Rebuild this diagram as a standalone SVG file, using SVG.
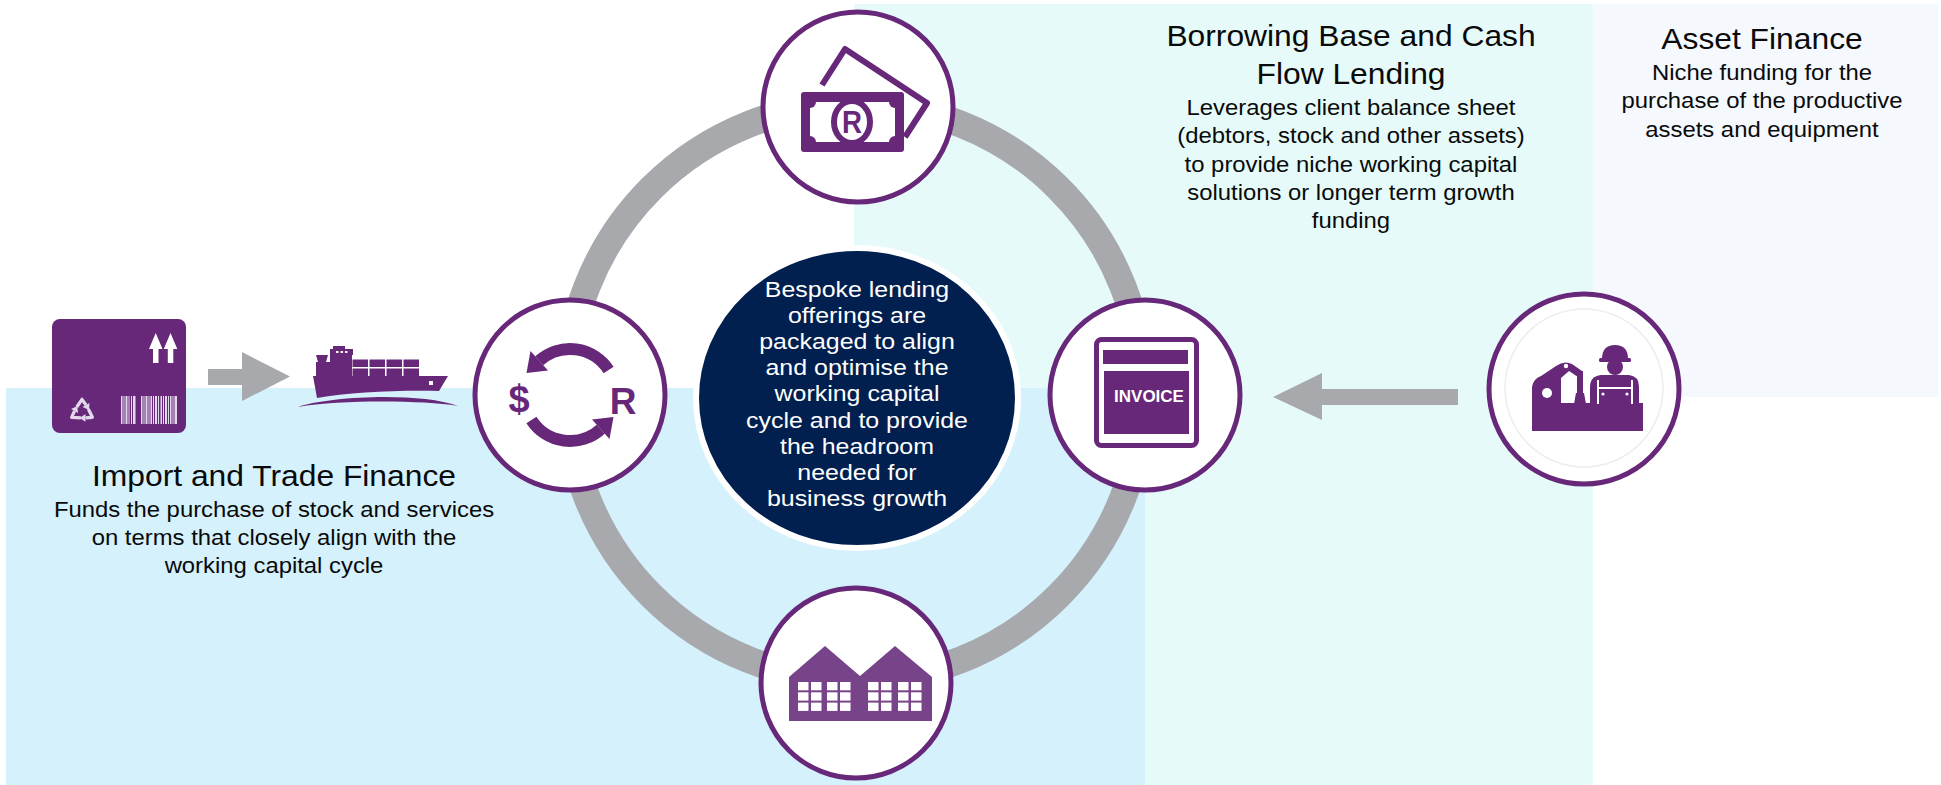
<svg xmlns="http://www.w3.org/2000/svg" width="1941" height="785" viewBox="0 0 1941 785">
  <style>
    .node { fill: #ffffff; stroke: #68287A; stroke-width: 5; }
    .ic { fill: #68287A; }
    .pale { fill: #E4D9EC; }
    .gray { fill: #A8A9AD; }
    .title { font-family: "Liberation Sans", Arial, sans-serif; font-size: 29.3px; fill: #0a0a0a; text-anchor: middle; }
    .body { font-family: "Liberation Sans", Arial, sans-serif; font-size: 22px; fill: #0a0a0a; text-anchor: middle; }
    .lead { font-family: "Liberation Sans", Arial, sans-serif; font-size: 23px; fill: #ffffff; text-anchor: middle; }
    .glyph { font-family: "Liberation Sans", Arial, sans-serif; font-weight: bold; fill: #68287A; text-anchor: middle; }
  </style>

  <defs>
    <!-- one folded arrow of the recycling mark, centred on the triangle centroid -->
    <g id="recycle-arm">
      <path d="M-5.2,-4.3 L0,-12 L4,-6.3" fill="none" stroke="#E4D9EC" stroke-width="3.2" stroke-linejoin="round"/>
      <path d="M7.4,-8.3 L7,-1.4 L0.6,-4.3 Z" fill="#E4D9EC"/>
    </g>
  </defs>

  <!-- page and coloured panels -->
  <rect x="0" y="0" width="1941" height="785" fill="#ffffff"/>
  <rect x="854" y="4" width="739" height="781" fill="#E6FBF9"/>
  <rect x="1593" y="4" width="345" height="393" fill="#F5F9FE"/>
  <rect x="6" y="388" width="1139" height="397" fill="#D4F1FC"/>

  <!-- cycle ring and flow arrows -->
  <g id="connectors">
    <circle cx="855" cy="392" r="288" fill="none" stroke="#A8A9AD" stroke-width="27"/>
    <path class="gray" d="M208,369 H242 V352 L290,376.5 L242,401 V385 H208 Z"/>
    <path class="gray" d="M1458,389 H1322 V373 L1273,397 L1322,420 V405 H1458 Z"/>
  </g>

  <!-- centre statement -->
  <g id="centre">
    <ellipse cx="857" cy="398" rx="161" ry="150" fill="#01204F" stroke="#ffffff" stroke-width="6"/>
    <g transform="translate(857,0) scale(1.085,1)">
      <text class="lead" x="0" y="297">Bespoke lending</text>
      <text class="lead" x="0" y="323">offerings are</text>
      <text class="lead" x="0" y="349">packaged to align</text>
      <text class="lead" x="0" y="375">and optimise the</text>
      <text class="lead" x="0" y="401">working capital</text>
      <text class="lead" x="0" y="428">cycle and to provide</text>
      <text class="lead" x="0" y="454">the headroom</text>
      <text class="lead" x="0" y="480">needed for</text>
      <text class="lead" x="0" y="506">business growth</text>
    </g>
  </g>

  <!-- banknote node -->
  <g id="node-cash">
    <circle class="node" cx="858" cy="107" r="95"/>
    <path d="M822,85 L845,49 L927,103 L905,137" fill="none" stroke="#68287A" stroke-width="6" stroke-linejoin="round"/>
    <rect class="ic" x="801" y="92" width="103" height="60" rx="3"/>
    <rect x="810" y="102" width="85" height="40" fill="#ffffff"/>
    <circle class="ic" cx="810" cy="102" r="6"/>
    <circle class="ic" cx="895" cy="102" r="6"/>
    <circle class="ic" cx="810" cy="142" r="6"/>
    <circle class="ic" cx="895" cy="142" r="6"/>
    <ellipse cx="852" cy="122" rx="18" ry="21" fill="#ffffff" stroke="#68287A" stroke-width="6"/>
    <text class="glyph" x="852" y="133" font-size="32" textLength="20" lengthAdjust="spacingAndGlyphs">R</text>
  </g>

  <!-- currency exchange node -->
  <g id="node-exchange">
    <circle class="node" cx="570" cy="395" r="95"/>
    <path d="M608.6,370 A46,46 0 0 0 539.2,360.8" fill="none" stroke="#68287A" stroke-width="12"/>
    <path class="ic" d="M530.5,351 L548,370.5 L526.5,373 Z"/>
    <path d="M531.4,420 A46,46 0 0 0 600.8,429.2" fill="none" stroke="#68287A" stroke-width="12"/>
    <path class="ic" d="M609.5,439 L592,419.5 L613.5,417 Z"/>
    <text class="glyph" x="519" y="412" font-size="38">$</text>
    <text class="glyph" x="623" y="414" font-size="37">R</text>
  </g>

  <!-- invoice node -->
  <g id="node-invoice">
    <circle class="node" cx="1145" cy="395" r="95"/>
    <rect x="1096.5" y="339.5" width="100" height="106" rx="5" fill="#ffffff" stroke="#68287A" stroke-width="5"/>
    <rect class="ic" x="1103" y="350" width="85" height="14"/>
    <rect class="ic" x="1104" y="371" width="85" height="63"/>
    <text x="1149" y="402" font-family="Liberation Sans, Arial, sans-serif" font-weight="bold" font-size="17" fill="#ffffff" text-anchor="middle">INVOICE</text>
  </g>

  <!-- warehouse node -->
  <g id="node-warehouse">
    <circle class="node" cx="856" cy="683" r="95"/>
    <path d="M789,677 L825,646 L860,676 L895,646 L932,677 V721 H789 Z" fill="#784489"/>
    <g fill="#ffffff">
      <rect x="798" y="682" width="10.5" height="8.3"/><rect x="811" y="682" width="10.5" height="8.3"/>
      <rect x="798" y="692.3" width="10.5" height="8.3"/><rect x="811" y="692.3" width="10.5" height="8.3"/>
      <rect x="798" y="702.6" width="10.5" height="8.3"/><rect x="811" y="702.6" width="10.5" height="8.3"/>
      <rect x="827" y="682" width="10.5" height="8.3"/><rect x="840" y="682" width="10.5" height="8.3"/>
      <rect x="827" y="692.3" width="10.5" height="8.3"/><rect x="840" y="692.3" width="10.5" height="8.3"/>
      <rect x="827" y="702.6" width="10.5" height="8.3"/><rect x="840" y="702.6" width="10.5" height="8.3"/>
      <rect x="868" y="682" width="10.5" height="8.3"/><rect x="881" y="682" width="10.5" height="8.3"/>
      <rect x="868" y="692.3" width="10.5" height="8.3"/><rect x="881" y="692.3" width="10.5" height="8.3"/>
      <rect x="868" y="702.6" width="10.5" height="8.3"/><rect x="881" y="702.6" width="10.5" height="8.3"/>
      <rect x="898" y="682" width="10.5" height="8.3"/><rect x="911" y="682" width="10.5" height="8.3"/>
      <rect x="898" y="692.3" width="10.5" height="8.3"/><rect x="911" y="692.3" width="10.5" height="8.3"/>
      <rect x="898" y="702.6" width="10.5" height="8.3"/><rect x="911" y="702.6" width="10.5" height="8.3"/>
    </g>
  </g>

  <!-- asset finance node: robot arm and worker -->
  <g id="node-asset">
    <circle class="node" cx="1584" cy="389" r="95"/>
    <circle cx="1584" cy="388" r="79" fill="none" stroke="#EDEDEF" stroke-width="1.5"/>
    <rect class="ic" x="1532" y="403" width="111" height="28"/>
    <path class="ic" d="M1532,404 V387 Q1533,379 1541,376 L1556,366 Q1564,360 1572,364 L1582,371 L1578,377 L1569,371 L1561,378 V404 Z"/>
    <circle cx="1547" cy="393" r="5" fill="#ffffff"/>
    <circle cx="1566" cy="366" r="2.2" fill="#ffffff"/>
    <rect class="ic" x="1577" y="371" width="6" height="22"/>
    <path class="ic" d="M1574,404 L1576,393 H1584 L1586,404 Z"/>
    <path class="ic" d="M1602,359 Q1602,345 1615,345 Q1628,345 1628,359 Z"/>
    <rect class="ic" x="1599" y="358" width="32" height="4" rx="1.5"/>
    <circle class="ic" cx="1615" cy="367" r="8"/>
    <path class="ic" d="M1590,404 V387 Q1590,376 1601,375 H1629 Q1639,376 1639,387 V404 Z"/>
    <path d="M1598,404 V380 M1632,404 V380 M1598,388 H1632" fill="none" stroke="#ffffff" stroke-width="2"/>
    <circle cx="1603" cy="394" r="1.6" fill="#ffffff"/>
    <circle cx="1627" cy="394" r="1.6" fill="#ffffff"/>
  </g>

  <!-- shipping carton -->
  <g id="node-carton">
    <rect class="ic" x="52" y="319" width="134" height="114" rx="8"/>
    <path fill="#ffffff" d="M155.7,333 L162.5,349 H158.5 V363 H153 V349 H149 Z"/>
    <path fill="#ffffff" d="M170.5,333 L177.3,349 H173.3 V363 H167.8 V349 H163.8 Z"/>
    <g transform="translate(82,411.3)">
      <use href="#recycle-arm"/>
      <use href="#recycle-arm" transform="rotate(120)"/>
      <use href="#recycle-arm" transform="rotate(240)"/>
    </g>
    <g class="pale">
      <rect x="121" y="396" width="1.5" height="28"/><rect x="123.5" y="396" width="1" height="28"/>
      <rect x="125.5" y="396" width="2" height="28"/><rect x="128.5" y="396" width="1" height="28"/>
      <rect x="131" y="396" width="1" height="28"/><rect x="133" y="396" width="2.5" height="28"/>
      <rect x="141" y="396" width="1.5" height="28"/><rect x="143.5" y="396" width="1" height="28"/>
      <rect x="145.5" y="396" width="2" height="28"/><rect x="148.5" y="396" width="1" height="28"/>
      <rect x="150.5" y="396" width="1.5" height="28"/><rect x="153" y="396" width="1" height="28"/>
      <rect x="155" y="396" width="2" height="28"/><rect x="158" y="396" width="1" height="28"/>
      <rect x="160.5" y="396" width="1.5" height="28"/><rect x="163" y="396" width="1" height="28"/>
      <rect x="165" y="396" width="2" height="28"/><rect x="168" y="396" width="1" height="28"/>
      <rect x="170" y="396" width="1.5" height="28"/><rect x="172.5" y="396" width="1" height="28"/>
      <rect x="174.5" y="396" width="2.5" height="28"/>
    </g>
  </g>

  <!-- container ship -->
  <g id="node-ship">
    <path class="ic" d="M313,376 H448 L439,391 C400,390 350,392 317,398 Z"/>
    <path class="ic" d="M298,407 C330,396 420,392 458,406 C420,400 340,400 298,407 Z"/>
    <rect x="429" y="381" width="4" height="4" fill="#ffffff"/>
    <rect class="ic" x="316" y="362" width="15" height="14"/>
    <path class="ic" d="M316,355 H328 L326,362 H318 Z"/>
    <rect class="ic" x="330" y="352" width="22" height="24"/>
    <rect class="ic" x="330" y="349" width="23" height="6"/>
    <rect class="ic" x="333" y="346" width="12" height="4"/>
    <rect x="336" y="351" width="2.5" height="2" fill="#ffffff"/>
    <rect x="340.5" y="351" width="2.5" height="2" fill="#ffffff"/>
    <rect x="345" y="351" width="2.5" height="2" fill="#ffffff"/>
    <rect class="ic" x="352.5" y="359.5" width="15.5" height="7.5"/><rect class="ic" x="369.5" y="359.5" width="15.5" height="7.5"/>
    <rect class="ic" x="386.5" y="359.5" width="15.5" height="7.5"/><rect class="ic" x="403.5" y="359.5" width="15.5" height="7.5"/>
    <rect class="ic" x="352.5" y="368.5" width="15.5" height="7.5"/><rect class="ic" x="369.5" y="368.5" width="15.5" height="7.5"/>
    <rect class="ic" x="386.5" y="368.5" width="15.5" height="7.5"/><rect class="ic" x="403.5" y="368.5" width="15.5" height="7.5"/>
  </g>

  <!-- captions -->
  <g id="label-borrowing" transform="translate(1351,0) scale(1.085,1)">
    <text class="title" x="0" y="46">Borrowing Base and Cash</text>
    <text class="title" x="0" y="84">Flow Lending</text>
    <text class="body" x="0" y="115">Leverages client balance sheet</text>
    <text class="body" x="0" y="143.5">(debtors, stock and other assets)</text>
    <text class="body" x="0" y="172">to provide niche working capital</text>
    <text class="body" x="0" y="200">solutions or longer term growth</text>
    <text class="body" x="0" y="228">funding</text>
  </g>
  <g id="label-asset" transform="translate(1762,0) scale(1.085,1)">
    <text class="title" x="0" y="49">Asset Finance</text>
    <text class="body" x="0" y="80">Niche funding for the</text>
    <text class="body" x="0" y="108.5">purchase of the productive</text>
    <text class="body" x="0" y="137">assets and equipment</text>
  </g>
  <g id="label-import" transform="translate(274,0) scale(1.085,1)">
    <text class="title" x="0" y="486">Import and Trade Finance</text>
    <text class="body" x="0" y="517">Funds the purchase of stock and services</text>
    <text class="body" x="0" y="545">on terms that closely align with the</text>
    <text class="body" x="0" y="573">working capital cycle</text>
  </g>
</svg>
